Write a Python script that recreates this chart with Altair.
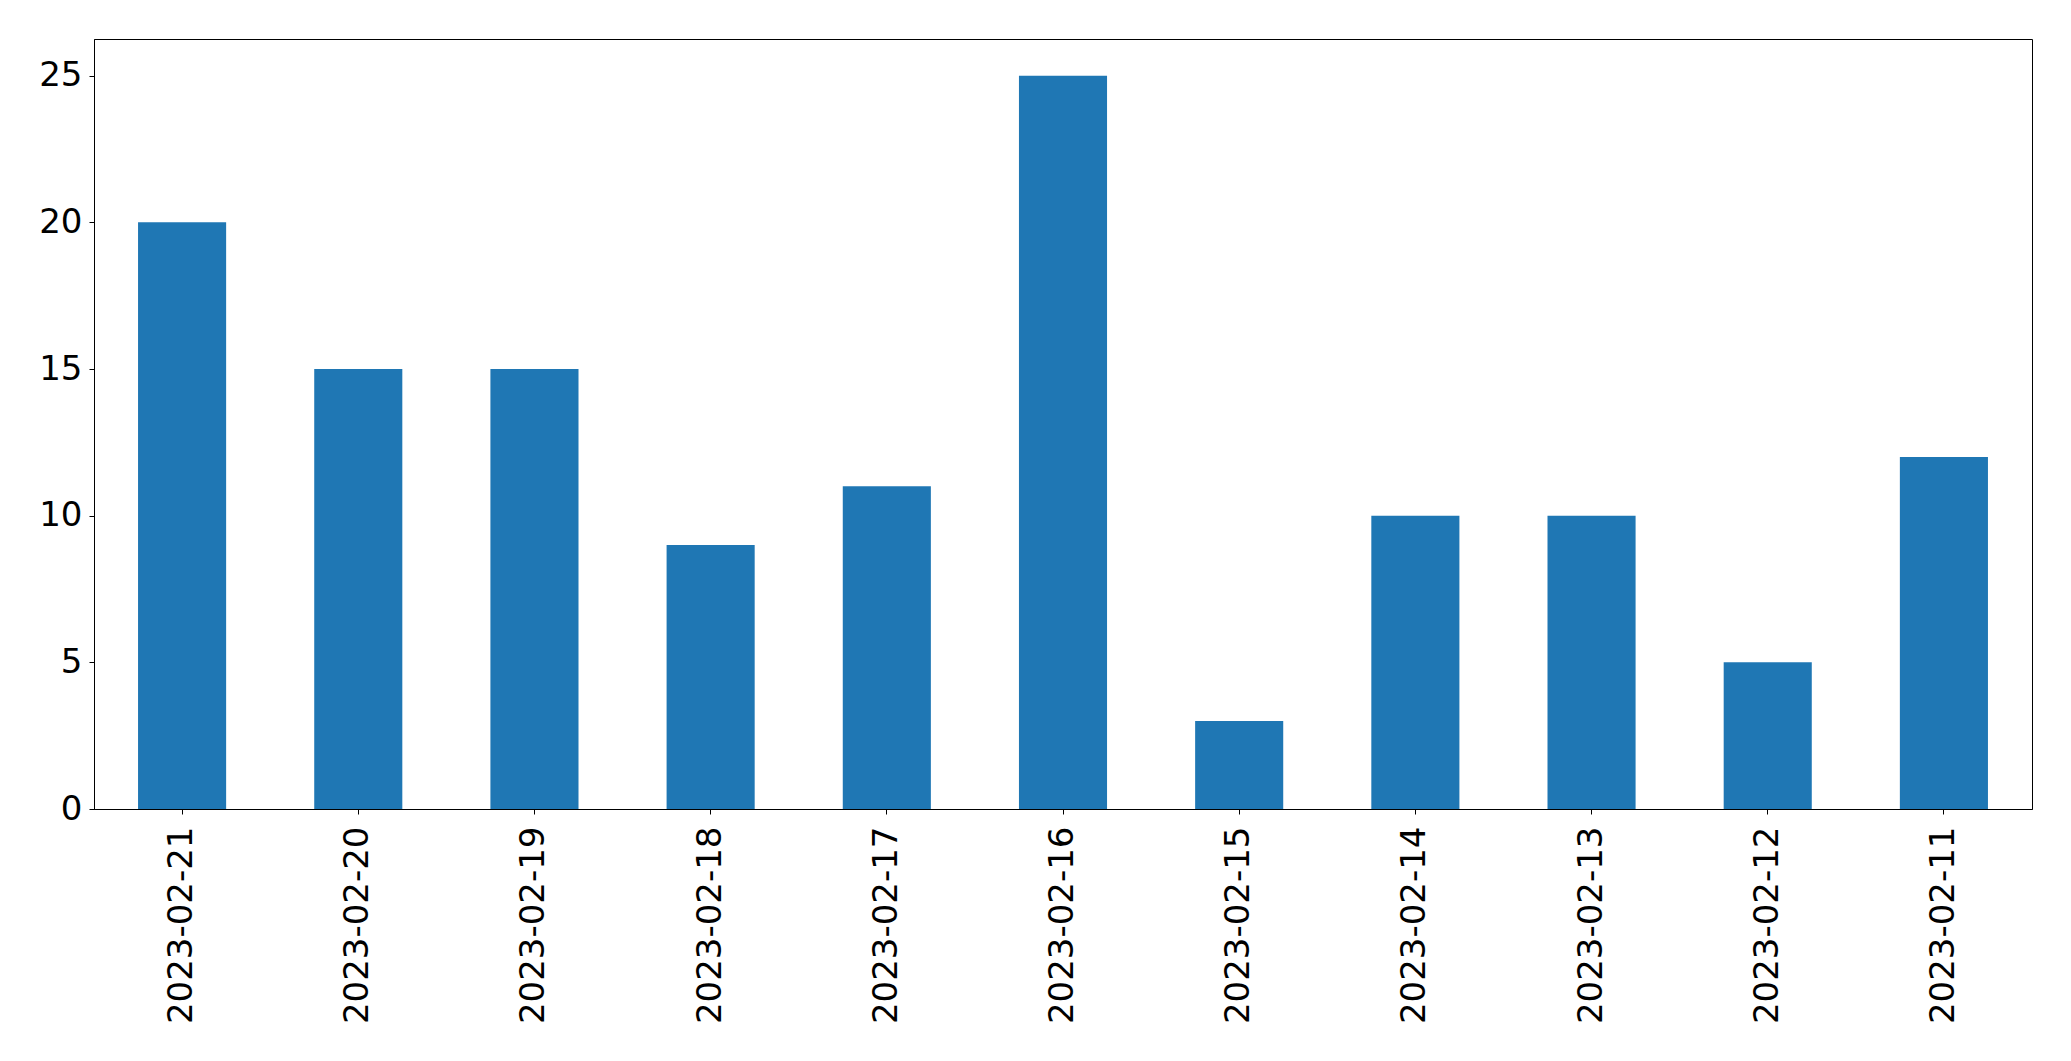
import altair as alt
import pandas as pd

dates = ["2023-02-21", "2023-02-20", "2023-02-19", "2023-02-18", "2023-02-17",
         "2023-02-16", "2023-02-15", "2023-02-14", "2023-02-13", "2023-02-12",
         "2023-02-11"]
counts = [20, 15, 15, 9, 11, 25, 3, 10, 10, 5, 12]
y_ticks = [0, 5, 10, 15, 20, 25]

df = pd.DataFrame({"date": dates, "count": counts})

FONT = "DejaVu Sans"

chart = alt.Chart(df).mark_bar(color="#1f77b4").encode(
    x=alt.X("date:N", sort=dates, title=None,
            scale=alt.Scale(paddingInner=0.5, paddingOuter=0.25),
            axis=alt.Axis(labelAngle=-90, labelFontSize=34, labelFont=FONT,
                          labelColor="black", tickColor="black", tickSize=5,
                          domainColor="black", domainOpacity=1, labelPadding=12,
                          labelAlign="right", labelBaseline="middle", labelLimit=0)),
    y=alt.Y("count:Q", title=None,
            scale=alt.Scale(domain=[0, 26.25], nice=False),
            axis=alt.Axis(values=y_ticks, grid=False, labelFontSize=34, labelFont=FONT,
                          labelColor="black", tickColor="black", tickSize=5,
                          domainColor="black", labelPadding=7)),
).properties(
    width=1938, height=770,
    autosize=alt.AutoSizeParams(type="none"),
    padding={"left": 86, "top": 31, "right": 20, "bottom": 220},
).configure(
    background="white"
).configure_view(
    stroke="black", strokeWidth=1, strokeOpacity=1
)

chart.save("out.html", embed_options={"renderer": "svg", "actions": False})
